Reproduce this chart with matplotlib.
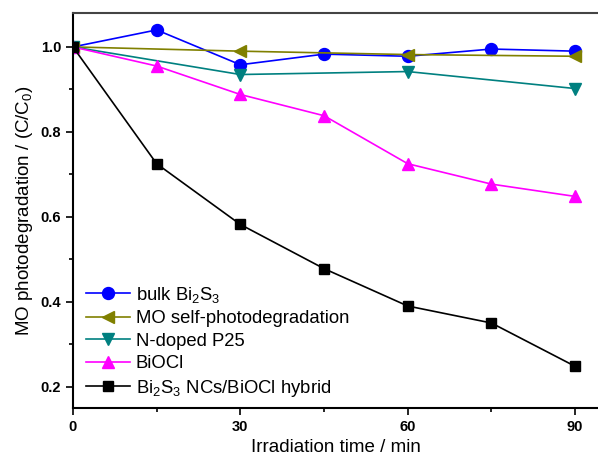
import matplotlib
matplotlib.use("Agg")
import matplotlib.pyplot as plt
from matplotlib.ticker import MultipleLocator

plt.rcParams['font.family'] = ['Liberation Sans', 'DejaVu Sans']
plt.rcParams['mathtext.fontset'] = 'custom'
plt.rcParams['mathtext.rm'] = 'Liberation Sans'

# irradiation times (min)
t_full = [0, 15, 30, 45, 60, 75, 90]
t_half = [0, 30, 60, 90]

bulk_bi2s3 = [1.0, 1.04, 0.958, 0.983, 0.978, 0.995, 0.99]
mo_self = [1.0, 0.99, 0.982, 0.978]
n_p25 = [1.0, 0.935, 0.942, 0.902]
biocl = [1.0, 0.955, 0.888, 0.838, 0.725, 0.677, 0.648]
hybrid = [1.0, 0.725, 0.582, 0.478, 0.39, 0.35, 0.248]

fig = plt.figure(figsize=(5.98, 4.62), dpi=100)
ax = fig.add_axes([0.122, 0.117, 0.878, 0.855])

ax.plot(t_full, bulk_bi2s3, '-o', color='#0000ff', ms=8.6, lw=1.2, label=r'bulk Bi$_2$S$_3$')
ax.plot(t_half, mo_self, '-<', color='#808000', ms=9, lw=1.2, label='MO self-photodegradation')
ax.plot(t_half, n_p25, '-v', color='#008080', ms=9, lw=1.2, label='N-doped P25')
ax.plot(t_full, biocl, '-^', color='#ff00ff', ms=9, lw=1.2, label='BiOCl')
ax.plot(t_full, hybrid, '-s', color='black', ms=7.3, lw=1.2, label=r'Bi$_2$S$_3$ NCs/BiOCl hybrid')

ax.set_xlim(0, 94.1)
ax.set_ylim(0.15, 1.08)
ax.xaxis.set_major_locator(MultipleLocator(30))
ax.xaxis.set_minor_locator(MultipleLocator(15))
ax.yaxis.set_major_locator(MultipleLocator(0.2))
ax.yaxis.set_minor_locator(MultipleLocator(0.1))
ax.tick_params(which='both', direction='out', width=1.2, labelsize=10.5)
ax.tick_params(which='major', length=5)
ax.tick_params(which='minor', length=3)
for lab in ax.get_xticklabels() + ax.get_yticklabels():
    lab.set_fontweight('bold')
for s in ['left', 'bottom', 'top']:
    ax.spines[s].set_linewidth(1.5)
ax.spines['top'].set_color('#444444')
ax.spines['right'].set_visible(False)

ax.set_xlabel('Irradiation time / min', fontsize=13.5)
ax.set_ylabel(r'MO photodegradation / (C/C$_0$)', fontsize=13.5)

ax.legend(loc='lower left', bbox_to_anchor=(0.007, 0.0), frameon=False, fontsize=13.3,
          handlelength=2.4, handletextpad=0.3, labelspacing=0.3, borderaxespad=0.2,
          borderpad=0.3)

fig.savefig('out.png', dpi=100)
